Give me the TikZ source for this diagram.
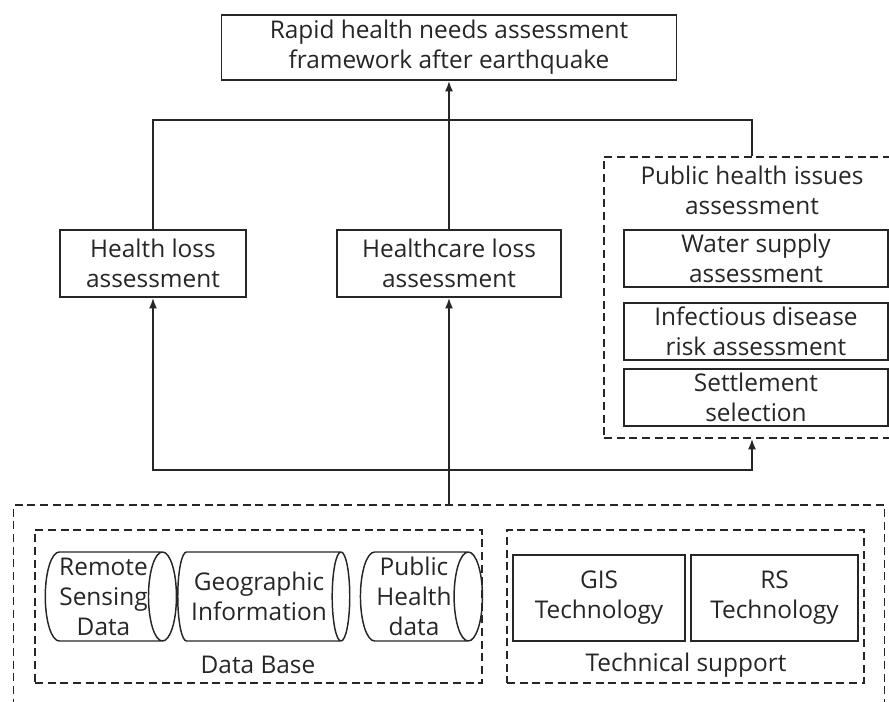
\documentclass[tikz,border=0pt]{standalone}
\usepackage{fontspec}
\setmainfont{Open Sans}
\usepackage{tikz}
\usetikzlibrary{arrows.meta,shapes.geometric,calc}

\begin{document}
\begin{tikzpicture}[x=0.75pt,y=-0.75pt,
    every node/.style={font=\fontsize{18.3}{22.5}\selectfont, text=black!85, align=center, inner sep=0pt},
    box/.style={draw=black!85, line width=1.1pt, rectangle},
    dbox/.style={draw=black!85, line width=1.1pt, rectangle, dash pattern=on 6pt off 3.5pt},
    drum/.style={draw=black!85, line width=1.1pt, cylinder, aspect=0.36, minimum height=#1, minimum width=89*0.75pt},
    link/.style={draw=black!85, line width=1.4pt},
    up/.style={draw=black!85, line width=1.4pt, -{Latex[length=8pt,width=6pt]}}]
            \useasboundingbox (0,0) rectangle (889,702);
            % top
            \node[box, minimum width=455*0.75pt, minimum height=65*0.75pt] at (449,47.5) (top) {Rapid health needs assessment\\framework after earthquake};
            % second row
            \node[box, minimum width=186*0.75pt, minimum height=67*0.75pt] at (153,263.5) (health) {Health loss\\assessment};
            \node[box, minimum width=224*0.75pt, minimum height=67*0.75pt] at (449,263.5) (care) {Healthcare loss\\assessment};
            \node[dbox, minimum width=288*0.75pt, minimum height=281*0.75pt] at (748,297.5) (ph) {};
            \node at (752,190) (phtitle) {Public health issues\\assessment};
            \node[box, minimum width=264*0.75pt, minimum height=57*0.75pt] at (756,258.5) (water) {Water supply\\assessment};
            \node[box, minimum width=264*0.75pt, minimum height=57*0.75pt] at (756,331.5) (infect) {Infectious disease\\risk assessment};
            \node[box, minimum width=264*0.75pt, minimum height=57*0.75pt] at (756,397.5) (settle) {Settlement\\selection};
            % bottom
            \node[dbox, minimum width=871*0.75pt, minimum height=205*0.75pt] at (449,607.5) (outer) {};
            \node[dbox, minimum width=447*0.75pt, minimum height=153*0.75pt] at (258.5,606.5) (db) {};
            \node[dbox, minimum width=357*0.75pt, minimum height=153*0.75pt] at (685.5,606.5) (tech) {};
            \node[drum=123*0.75pt] at (103.5,596.5) (rs) {Remote\\Sensing\\Data};
            \node[drum=172*0.75pt] at (259,596.5) (geo) {Geographic\\Information};
            \node[drum=122*0.75pt] at (414,596.5) (phd) {Public\\Health\\data};
            \node at (258,665) (dblabel) {Data Base};
            \node[box, minimum width=172*0.75pt, minimum height=86*0.75pt] at (599,598) (gis) {GIS\\Technology};
            \node[box, minimum width=167*0.75pt, minimum height=86*0.75pt] at (774.5,598) (rst) {RS\\Technology};
            \node at (686,665) (techlabel) {Technical support};
            % connectors
            \coordinate (upjoin) at (449,120);
            \coordinate (lowjoin) at (449,470);
            \draw[up] (care.north) -- (top.south);
            \draw[link] (health.north) |- (upjoin) -| (phtitle |- ph.north);
            \draw[link] (outer.north -| lowjoin) -- (lowjoin);
            \draw[up] (lowjoin) -| (health.south);
            \draw[up] (lowjoin) -- (care.south);
            \draw[up] (lowjoin) -| (phtitle |- ph.south);
        \end{tikzpicture}
\end{document}
